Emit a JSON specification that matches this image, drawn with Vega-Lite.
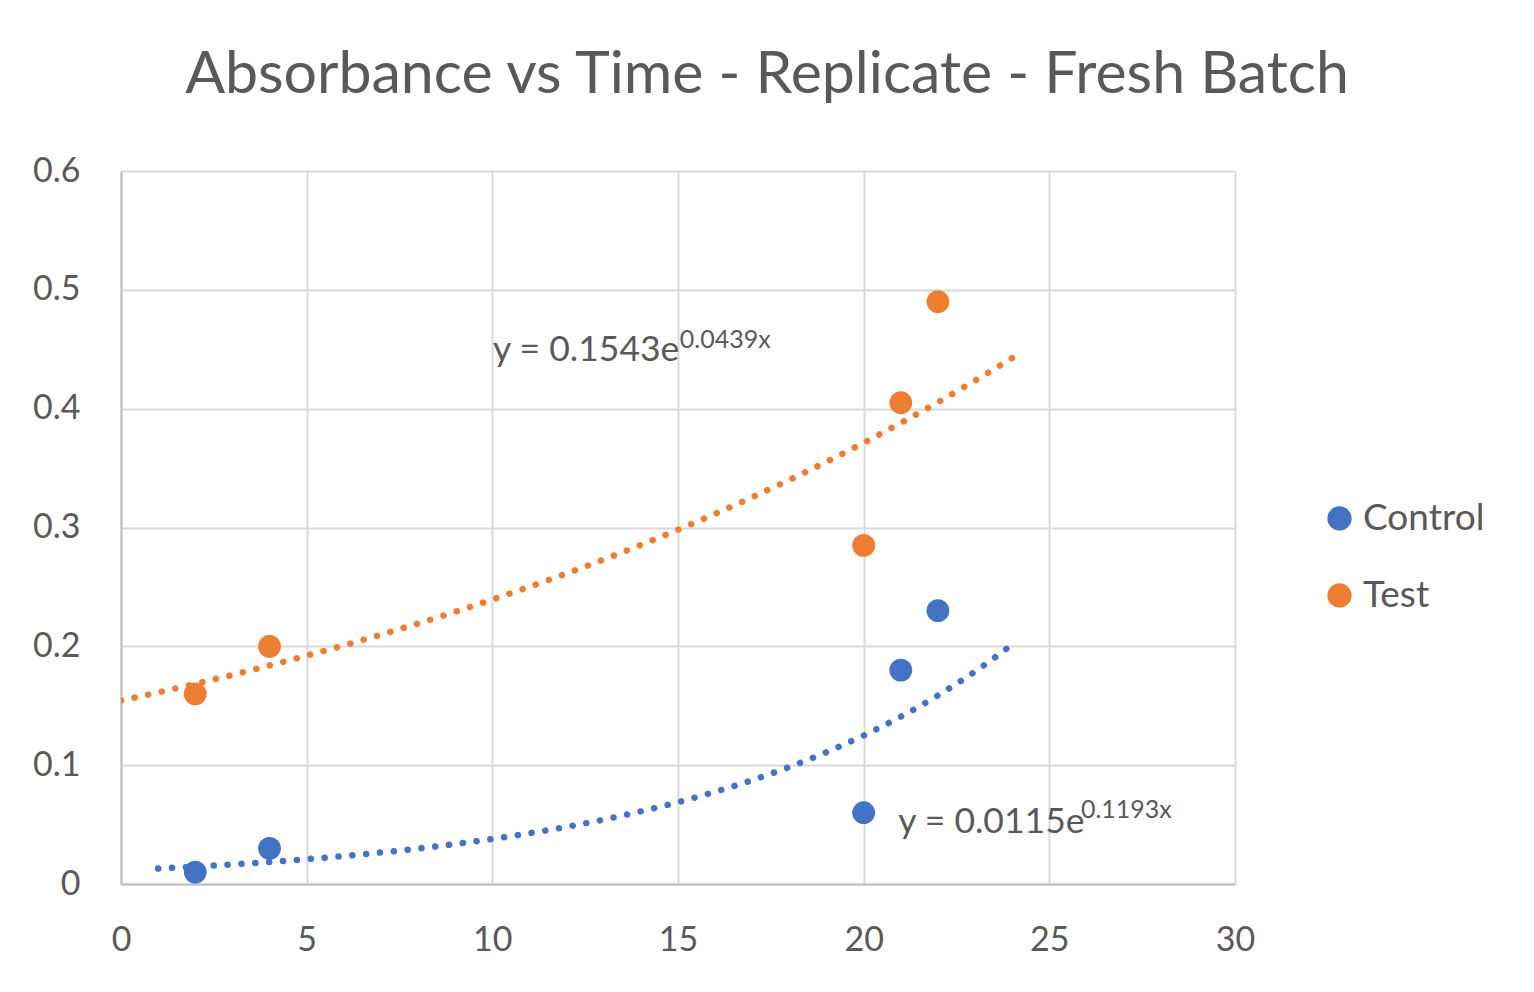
{
  "$schema": "https://vega.github.io/schema/vega-lite/v6.json",
  "width": 1114,
  "height": 713,
  "autosize": {"type": "none"},
  "padding": {"left": 121, "top": 171, "right": 299, "bottom": 108},
  "background": "white",
  "title": {
    "text": "Absorbance vs Time - Replicate - Fresh Batch",
    "font": "Lato",
    "fontSize": 59,
    "fontWeight": "normal",
    "color": "#595959",
    "anchor": "middle",
    "dx": 89,
    "offset": 2,
    "baseline": "alphabetic"
  },
  "datasets": {
    "points": [
      {"series": "Control", "time": 2, "absorbance": 0.01},
      {"series": "Control", "time": 4, "absorbance": 0.03},
      {"series": "Control", "time": 20, "absorbance": 0.06},
      {"series": "Control", "time": 21, "absorbance": 0.18},
      {"series": "Control", "time": 22, "absorbance": 0.23},
      {"series": "Test", "time": 2, "absorbance": 0.16},
      {"series": "Test", "time": 4, "absorbance": 0.2},
      {"series": "Test", "time": 20, "absorbance": 0.285},
      {"series": "Test", "time": 21, "absorbance": 0.405},
      {"series": "Test", "time": 22, "absorbance": 0.49}
    ],
    "trend": [
      {"curve": "Test", "time": 0, "absorbance": 0.1543},
      {"curve": "Test", "time": 1, "absorbance": 0.1612},
      {"curve": "Test", "time": 2, "absorbance": 0.1685},
      {"curve": "Test", "time": 3, "absorbance": 0.176},
      {"curve": "Test", "time": 4, "absorbance": 0.1839},
      {"curve": "Test", "time": 5, "absorbance": 0.1922},
      {"curve": "Test", "time": 6, "absorbance": 0.2008},
      {"curve": "Test", "time": 7, "absorbance": 0.2098},
      {"curve": "Test", "time": 8, "absorbance": 0.2192},
      {"curve": "Test", "time": 9, "absorbance": 0.2291},
      {"curve": "Test", "time": 10, "absorbance": 0.2394},
      {"curve": "Test", "time": 11, "absorbance": 0.2501},
      {"curve": "Test", "time": 12, "absorbance": 0.2613},
      {"curve": "Test", "time": 13, "absorbance": 0.2731},
      {"curve": "Test", "time": 14, "absorbance": 0.2853},
      {"curve": "Test", "time": 15, "absorbance": 0.2981},
      {"curve": "Test", "time": 16, "absorbance": 0.3115},
      {"curve": "Test", "time": 17, "absorbance": 0.3255},
      {"curve": "Test", "time": 18, "absorbance": 0.3401},
      {"curve": "Test", "time": 19, "absorbance": 0.3553},
      {"curve": "Test", "time": 20, "absorbance": 0.3713},
      {"curve": "Test", "time": 21, "absorbance": 0.388},
      {"curve": "Test", "time": 22, "absorbance": 0.4054},
      {"curve": "Test", "time": 23, "absorbance": 0.4236},
      {"curve": "Test", "time": 24, "absorbance": 0.4426},
      {"curve": "Control", "time": 1, "absorbance": 0.013},
      {"curve": "Control", "time": 2, "absorbance": 0.0146},
      {"curve": "Control", "time": 3, "absorbance": 0.01645},
      {"curve": "Control", "time": 4, "absorbance": 0.01853},
      {"curve": "Control", "time": 5, "absorbance": 0.02088},
      {"curve": "Control", "time": 6, "absorbance": 0.02353},
      {"curve": "Control", "time": 7, "absorbance": 0.02651},
      {"curve": "Control", "time": 8, "absorbance": 0.02987},
      {"curve": "Control", "time": 9, "absorbance": 0.03365},
      {"curve": "Control", "time": 10, "absorbance": 0.03792},
      {"curve": "Control", "time": 11, "absorbance": 0.04272},
      {"curve": "Control", "time": 12, "absorbance": 0.04813},
      {"curve": "Control", "time": 13, "absorbance": 0.05423},
      {"curve": "Control", "time": 14, "absorbance": 0.0611},
      {"curve": "Control", "time": 15, "absorbance": 0.06885},
      {"curve": "Control", "time": 16, "absorbance": 0.07757},
      {"curve": "Control", "time": 17, "absorbance": 0.0874},
      {"curve": "Control", "time": 18, "absorbance": 0.09847},
      {"curve": "Control", "time": 19, "absorbance": 0.11095},
      {"curve": "Control", "time": 20, "absorbance": 0.12501},
      {"curve": "Control", "time": 21, "absorbance": 0.14085},
      {"curve": "Control", "time": 22, "absorbance": 0.1587},
      {"curve": "Control", "time": 23, "absorbance": 0.17881},
      {"curve": "Control", "time": 24, "absorbance": 0.2015}
    ],
    "labels": [
      {"curve": "Test", "part": "main", "text": "y = 0.1543e", "time": 10.02, "absorbance": 0.4401},
      {"curve": "Test", "part": "sup", "text": "0.0439x", "time": 15.05, "absorbance": 0.4511},
      {"curve": "Control", "part": "main", "text": "y = 0.0115e", "time": 20.93, "absorbance": 0.0429},
      {"curve": "Control", "part": "sup", "text": "0.1193x", "time": 25.85, "absorbance": 0.0555}
    ]
  },
  "layer": [
    {
      "data": {"name": "points"},
      "mark": {"type": "point", "filled": true, "opacity": 1, "size": 520, "shape": "circle"},
      "encoding": {
        "x": {"field": "time", "type": "quantitative", "scale": {"domain": [0, 30], "nice": false}, "axis": {"values": [0, 5, 10, 15, 20, 25, 30], "title": null}},
        "y": {"field": "absorbance", "type": "quantitative", "scale": {"domain": [0, 0.6], "nice": false}, "axis": {"values": [0, 0.1, 0.2, 0.3, 0.4, 0.5, 0.6], "title": null, "format": "~g"}},
        "color": {
          "field": "series",
          "type": "nominal",
          "scale": {"domain": ["Control", "Test"], "range": ["#4472C4", "#ED7D31"]},
          "legend": {"title": " ", "titleFontSize": 10, "titlePadding": 319, "orient": "right", "offset": 86}
        }
      }
    },
    {
      "data": {"name": "trend"},
      "mark": {"type": "line", "strokeWidth": 6.5, "strokeCap": "round", "strokeDash": [0.1, 13.8], "interpolate": "monotone", "clip": true},
      "encoding": {
        "x": {"field": "time", "type": "quantitative"},
        "y": {"field": "absorbance", "type": "quantitative"},
        "detail": {"field": "curve"},
        "stroke": {"field": "curve", "type": "nominal", "scale": {"domain": ["Control", "Test"], "range": ["#4472C4", "#ED7D31"]}, "legend": null}
      }
    },
    {
      "data": {"name": "labels"},
      "transform": [{"filter": "datum.part == 'main'"}],
      "mark": {"type": "text", "align": "left", "baseline": "alphabetic", "font": "Lato", "fontSize": 35.5, "color": "#595959"},
      "encoding": {
        "x": {"field": "time", "type": "quantitative"},
        "y": {"field": "absorbance", "type": "quantitative"},
        "text": {"field": "text"}
      }
    },
    {
      "data": {"name": "labels"},
      "transform": [{"filter": "datum.part == 'sup'"}],
      "mark": {"type": "text", "align": "left", "baseline": "alphabetic", "font": "Lato", "fontSize": 25, "color": "#595959"},
      "encoding": {
        "x": {"field": "time", "type": "quantitative"},
        "y": {"field": "absorbance", "type": "quantitative"},
        "text": {"field": "text"}
      }
    }
  ],
  "config": {
    "view": {"stroke": null},
    "font": "Lato",
    "axis": {
      "grid": true,
      "gridColor": "#d9d9d9",
      "gridWidth": 2,
      "domain": true,
      "domainColor": "#bfbfbf",
      "domainWidth": 2,
      "ticks": false,
      "labelFlush": false,
      "labelFont": "Lato",
      "labelFontSize": 34,
      "labelColor": "#595959"
    },
    "axisX": {"labelPadding": 39, "labelBaseline": "top"},
    "axisY": {"labelPadding": 41},
    "legend": {
      "labelFont": "Lato",
      "labelFontSize": 37,
      "labelColor": "#595959",
      "symbolSize": 520,
      "symbolType": "circle",
      "labelOffset": 5,
      "rowPadding": 39,
      "padding": 0
    }
  }
}
